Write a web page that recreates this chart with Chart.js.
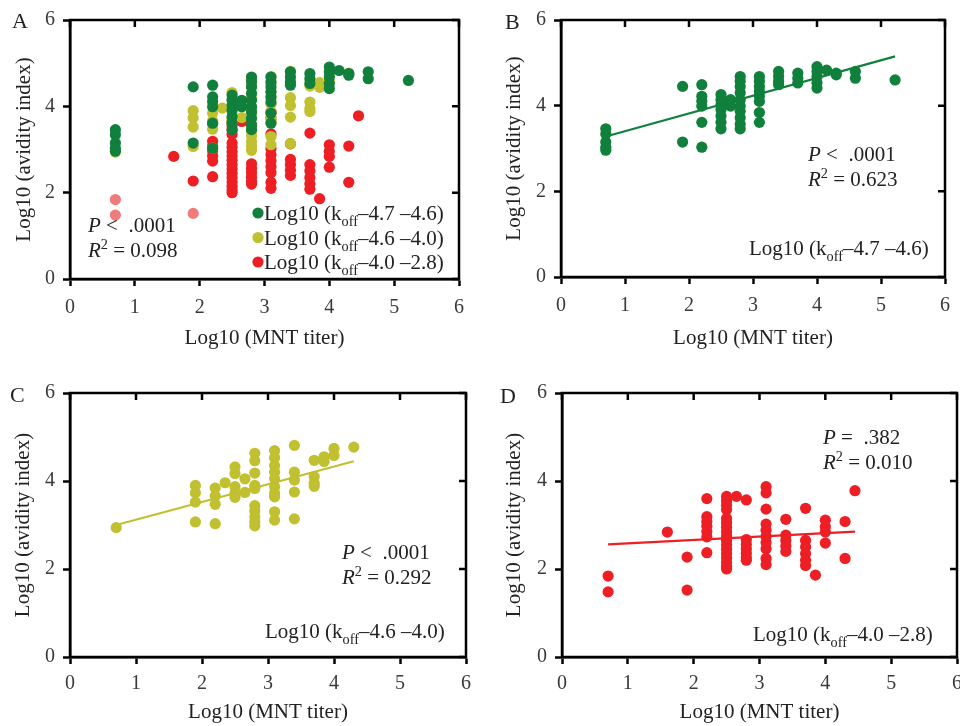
<!DOCTYPE html>
<html>
<head>
<meta charset="utf-8">
<script src="https://cdn.jsdelivr.net/npm/chart.js@4.4.0/dist/chart.umd.min.js"></script>
<style>
  html, body { margin: 0; padding: 0; background: #fff; overflow: hidden; }
  canvas { position: absolute; }
</style>
</head>
<body>
<canvas id="panelA" width="480" height="363" style="left:0;top:0"></canvas>
<canvas id="panelB" width="480" height="363" style="left:480px;top:0"></canvas>
<canvas id="panelC" width="480" height="363" style="left:0;top:363px"></canvas>
<canvas id="panelD" width="492" height="363" style="left:480px;top:363px"></canvas>
<script>
// koff -4.7 to -4.6 group
const greenTiter = [0.7, 0.7, 0.7, 0.7, 0.7, 1.9, 1.9,
  2.2, 2.2, 2.2, 2.2, 2.2, 2.2,
  2.5, 2.5, 2.5, 2.5, 2.5, 2.5, 2.5, 2.65, 2.65,
  2.8, 2.8, 2.8, 2.8, 2.8, 2.8, 2.8, 2.8, 2.8, 2.8,
  3.1, 3.1, 3.1, 3.1, 3.1, 3.1, 3.1, 3.1,
  3.4, 3.4, 3.4, 3.4, 3.7, 3.7, 3.7,
  4.0, 4.0, 4.0, 4.0, 4.0, 4.15, 4.3, 4.3, 4.6, 4.6, 5.22];
const greenAvidity = [3.46, 3.34, 3.15, 3.03, 2.96, 4.45, 3.15,
  4.49, 4.22, 4.11, 3.99, 3.61, 3.03,
  4.26, 4.14, 4.03, 3.91, 3.76, 3.61, 3.46, 4.14, 3.99,
  4.68, 4.57, 4.45, 4.3, 4.14, 3.99, 3.87, 3.72, 3.57, 3.46,
  4.68, 4.57, 4.45, 4.33, 4.22, 4.1, 3.84, 3.61,
  4.8, 4.68, 4.57, 4.49, 4.76, 4.64, 4.53,
  4.91, 4.8, 4.68, 4.53, 4.41, 4.83, 4.76, 4.72, 4.8, 4.64, 4.6];

// koff -4.6 to -4.0 group
const yellowTiter = [0.7, 1.9, 1.9, 1.9, 1.9, 2.2, 2.2, 2.2, 2.2, 2.35,
  2.5, 2.5, 2.5, 2.5, 2.5, 2.65, 2.65,
  2.8, 2.8, 2.8, 2.8, 2.8, 2.8, 2.8, 2.8, 2.8, 2.8,
  3.1, 3.1, 3.1, 3.1, 3.1, 3.1, 3.1, 3.1, 3.1, 3.1,
  3.4, 3.4, 3.4, 3.4, 3.4, 3.7, 3.7, 3.7, 3.7,
  3.85, 3.85, 4.0, 4.0, 4.3];
const yellowAvidity = [2.94, 3.9, 3.73, 3.52, 3.07, 3.84, 3.66, 3.47, 3.03, 3.96,
  4.32, 4.17, 3.87, 3.72, 3.63, 4.05, 3.74,
  4.63, 4.46, 4.18, 3.9, 3.83, 3.44, 3.32, 3.18, 3.07, 2.98,
  4.69, 4.53, 4.35, 4.2, 4.05, 3.87, 3.72, 3.64, 3.3, 3.11,
  4.81, 4.2, 4.02, 3.75, 3.14, 4.47, 4.1, 3.95, 3.88,
  4.55, 4.44, 4.74, 4.58, 4.77];

// koff -4.0 to -2.8 group
const redTiter = [0.7, 0.7, 1.6, 1.9, 1.9,
  2.2, 2.2, 2.2, 2.2, 2.2, 2.2, 2.2,
  2.5, 2.5, 2.5, 2.5, 2.5, 2.5, 2.5, 2.5, 2.5, 2.5, 2.5, 2.5, 2.5, 2.5, 2.5, 2.5, 2.5,
  2.65, 2.8, 2.8, 2.8, 2.8, 2.8, 2.8, 2.8,
  3.1, 3.1, 3.1, 3.1, 3.1, 3.1, 3.1, 3.1, 3.1, 3.1,
  3.4, 3.4, 3.4, 3.4, 3.4, 3.7, 3.7, 3.7, 3.7, 3.7, 3.7,
  3.85, 4.0, 4.0, 4.0, 4.0, 4.3, 4.3, 4.45];
const redAvidity = [1.84, 1.48, 2.84, 2.27, 1.52,
  3.6, 3.19, 3.08, 2.97, 2.85, 2.73, 2.37,
  3.65, 3.55, 3.45, 3.35, 3.15, 3.05, 2.95, 2.85, 2.75, 2.65, 2.55, 2.45, 2.35, 2.25, 2.15, 2.06, 2.0,
  3.65, 3.57, 2.67, 2.56, 2.46, 2.36, 2.26, 2.2,
  3.87, 3.73, 3.36, 3.02, 2.88, 2.74, 2.6, 2.46, 2.24, 2.1,
  3.13, 2.77, 2.65, 2.52, 2.4, 3.38, 2.65, 2.5, 2.35, 2.2, 2.08,
  1.86, 3.11, 2.96, 2.84, 2.59, 3.08, 2.24, 3.78];

// regression line end points [titer, avidity]
const greenFit = [[0.7, 3.28], [5.22, 5.15]];
const yellowFit = [[0.7, 3.0], [4.3, 4.45]];
const redFit = [[0.7, 2.56], [4.45, 2.85]];

const titerRange = [0, 6];
const avidityRange = [0, 6];
const pLabels = ['<  .0001', '<  .0001', '<  .0001', '=  .382'];
const r2Labels = ['0.098', '0.623', '0.292', '0.010'];
const koffLabels = ['\u20134.7 \u20134.6', '\u20134.6 \u20134.0', '\u20134.0 \u20132.8'];

const GREEN = 'rgb(16,128,60)';
const YELLOW = 'rgb(192,192,48)';
const RED = 'rgb(237,30,36)';
const PINK = 'rgb(242,122,122)';
const FONT = '"Liberation Serif", "DejaVu Serif", serif';
const TEXT_SIZE = 21;

Chart.defaults.font.family = FONT;

function points(xs, ys) {
  return xs.map((x, i) => ({ x: x, y: ys[i] }));
}

function scatterSet(xs, ys, color) {
  return {
    type: 'scatter',
    data: points(xs, ys),
    backgroundColor: color,
    borderWidth: 0,
    pointRadius: 5.6,
    pointHoverRadius: 5.6
  };
}

function fitSet(fit, color) {
  return {
    type: 'line',
    data: fit.map(p => ({ x: p[0], y: p[1] })),
    borderColor: color,
    borderWidth: 2.2,
    pointRadius: 0,
    fill: false
  };
}

// text with italic / sub / superscript pieces
function drawRuns(ctx, x, y, runs, size) {
  ctx.textAlign = 'left';
  ctx.textBaseline = 'alphabetic';
  for (const r of runs) {
    const s = (r.sub || r.sup) ? size * 0.68 : size;
    ctx.font = (r.italic ? 'italic ' : '') + s + 'px ' + FONT;
    const dy = r.sub ? size * 0.3 : (r.sup ? -size * 0.36 : 0);
    ctx.fillText(r.t, x, y + dy);
    x += ctx.measureText(r.t).width;
  }
  return x;
}

function koffRuns(range) {
  return [{ t: 'Log10 (k' }, { t: 'off', sub: true }, { t: range + ')' }];
}

function decorations(p) {
  return {
    id: 'decor',
    afterDraw(chart) {
      const { ctx, chartArea: a, scales } = chart;
      ctx.save();
      // box frame with inward ticks on the top and right sides
      ctx.strokeStyle = '#000';
      ctx.lineWidth = 2.5;
      ctx.strokeRect(a.left, a.top, a.right - a.left, a.bottom - a.top);
      ctx.beginPath();
      scales.x.ticks.forEach(t => {
        const px = scales.x.getPixelForValue(t.value);
        ctx.moveTo(px, a.top);
        ctx.lineTo(px, a.top + 7);
      });
      scales.y.ticks.forEach(t => {
        const py = scales.y.getPixelForValue(t.value);
        ctx.moveTo(a.right, py);
        ctx.lineTo(a.right - 7, py);
      });
      ctx.stroke();

      ctx.fillStyle = '#222';
      drawRuns(ctx, p.letter[1], p.letter[2], [{ t: p.letter[0] }], 22);
      drawRuns(ctx, p.stats[0], p.stats[1], [{ t: 'P', italic: true }, { t: ' ' + pLabels[p.idx] }], TEXT_SIZE);
      drawRuns(ctx, p.stats[0], p.stats[1] + 25, [{ t: 'R', italic: true }, { t: '2', sup: true }, { t: ' = ' + r2Labels[p.idx] }], TEXT_SIZE);

      if (p.legend) {
        const colors = [GREEN, YELLOW, RED];
        koffLabels.forEach((lab, i) => {
          const y = p.legend[1] + i * 24.5;
          ctx.fillStyle = colors[i];
          ctx.beginPath();
          ctx.arc(p.legend[0], y - 7, 5.6, 0, Math.PI * 2);
          ctx.fill();
          ctx.fillStyle = '#222';
          drawRuns(ctx, p.legend[0] + 6, y, koffRuns(lab), TEXT_SIZE);
        });
      } else {
        drawRuns(ctx, p.koff[0], p.koff[1], koffRuns(koffLabels[p.idx - 1]), TEXT_SIZE);
      }
      ctx.restore();
    }
  };
}

function makePanel(id, p, datasets) {
  const canvas = document.getElementById(id);
  const w = canvas.width, h = canvas.height;
  return new Chart(canvas, {
    data: { datasets: datasets },
    options: {
      responsive: false,
      animation: false,
      events: [],
      layout: { padding: { left: 0, top: p.area[1], right: w - p.area[2], bottom: 0 } },
      plugins: { legend: { display: false }, tooltip: { enabled: false } },
      scales: {
        x: {
          type: 'linear',
          min: titerRange[0],
          max: titerRange[1],
          ticks: { stepSize: 1, color: '#3a3a3a', font: { size: 20 }, padding: p.xTickPad },
          grid: { drawOnChartArea: false, drawTicks: true, tickLength: 7, tickWidth: 2.5, tickColor: '#000' },
          border: { display: true, width: 2.5, color: '#000' },
          title: { display: true, text: 'Log10 (MNT titer)', color: '#222', font: { size: TEXT_SIZE },
                   padding: { top: 0, bottom: p.xTitlePad } },
          afterFit(s) { s.height = h - p.area[3]; }
        },
        y: {
          type: 'linear',
          min: avidityRange[0],
          max: avidityRange[1],
          ticks: { stepSize: 2, color: '#3a3a3a', font: { size: 20 }, padding: 8 },
          grid: { drawOnChartArea: false, drawTicks: true, tickLength: 7, tickWidth: 2.5, tickColor: '#000' },
          border: { display: true, width: 2.5, color: '#000' },
          title: { display: true, text: 'Log10 (avidity index)', color: '#222', font: { size: TEXT_SIZE },
                   padding: { top: p.yTitlePad, bottom: 0 } },
          afterFit(s) { s.width = p.area[0]; }
        }
      }
    },
    plugins: [decorations(p)]
  });
}

// A: all three groups together; points below both 2s are shown faded
const redA = scatterSet(redTiter, redAvidity, RED);
redA.backgroundColor = c => (c.raw && c.raw.x < 2 && c.raw.y < 2) ? PINK : RED;

makePanel('panelA', {
  idx: 0, area: [70, 19, 459, 279], xTitlePad: 12, yTitlePad: 12, xTickPad: 10,
  letter: ['A', 12, 28], stats: [88, 232], legend: [258, 220]
}, [
  scatterSet(greenTiter, greenAvidity, GREEN),
  scatterSet(yellowTiter, yellowAvidity, YELLOW),
  redA
]);

makePanel('panelB', {
  idx: 1, area: [81, 16, 470, 277], xTitlePad: 12, yTitlePad: 22, xTickPad: 10,
  letter: ['B', 25, 29], stats: [328, 161], koff: [269, 255]
}, [
  fitSet(greenFit, GREEN),
  scatterSet(greenTiter, greenAvidity, GREEN)
]);

makePanel('panelC', {
  idx: 2, area: [70, 30, 466, 294], xTitlePad: 1, yTitlePad: 11, xTickPad: 8,
  letter: ['C', 10, 39], stats: [342, 196], koff: [265, 275]
}, [
  fitSet(yellowFit, YELLOW),
  scatterSet(yellowTiter, yellowAvidity, YELLOW)
]);

makePanel('panelD', {
  idx: 3, area: [82, 30, 477, 294], xTitlePad: 1, yTitlePad: 22, xTickPad: 8,
  letter: ['D', 20, 40], stats: [343, 81], koff: [273, 278]
}, [
  fitSet(redFit, RED),
  scatterSet(redTiter, redAvidity, RED)
]);
</script>
</body>
</html>
